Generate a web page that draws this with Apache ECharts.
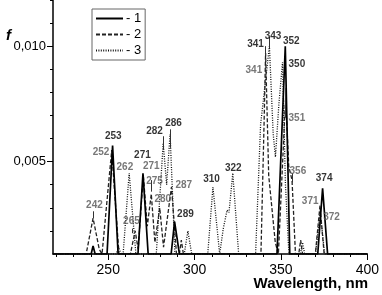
<!DOCTYPE html>
<html>
<head>
<meta charset="utf-8">
<script src="https://cdn.jsdelivr.net/npm/echarts@6/dist/echarts.min.js"></script>
<style>
  html, body { margin: 0; padding: 0; background: #fff; }
  #chart { width: 382px; height: 295px; }
</style>
</head>
<body>
<div id="chart"></div>
<script>
// spectrum 1 (solid)
var spec1 = [
  [218, 0.001], [240.1, 0.001], [241.2, 0.00135], [242.4, 0.001],
  [249.3, 0.001], [252.5, 0.0057], [255.7, 0.001],
  [267.2, 0.001], [270.1, 0.0045], [273.1, 0.001],
  [286.4, 0.001], [288.4, 0.0024], [291.2, 0.001],
  [347.7, 0.001], [352.5, 0.0100], [355.1, 0.001],
  [371.3, 0.001], [374.1, 0.00385], [377, 0.001], [400, 0.001]
]
// spectrum 2 (dashed)
var spec2 = [
  [218, 0.001], [237.2, 0.001], [241.2, 0.00255], [244.8, 0.0012],
  [246.4, 0.001], [252, 0.0055], [256.2, 0.001],
  [262.8, 0.001], [265.6, 0.0020], [267.3, 0.0012], [270.3, 0.0044],
  [272.6, 0.0022], [274.9, 0.0036], [277, 0.0015], [279.8, 0.0030],
  [282, 0.0013], [286.6, 0.0039], [289.5, 0.001],
  [291.2, 0.001], [292.3, 0.0016], [293.5, 0.001],
  [338.4, 0.001], [340.2, 0.0066], [341.1, 0.0097], [342.9, 0.0044],
  [346.7, 0.0015], [348.5, 0.001],
  [349.6, 0.001], [352.7, 0.0078], [354.5, 0.0048], [356.4, 0.0042], [358.4, 0.001],
  [360.3, 0.001], [361.4, 0.0016], [362.5, 0.001],
  [369.9, 0.001], [372.6, 0.0031], [375, 0.001], [400, 0.001]
]
// spectrum 3 (dotted)
var spec3 = [
  [218, 0.001], [254.6, 0.001], [256, 0.0013], [257.4, 0.001],
  [258.6, 0.001], [262.1, 0.0045], [266, 0.001],
  [277.8, 0.001], [281.8, 0.0058], [283.8, 0.0040], [285.8, 0.0062], [288.6, 0.001],
  [294, 0.001], [296.1, 0.0020], [298.3, 0.001],
  [307.6, 0.001], [310.6, 0.0039], [314.5, 0.001], [316.6, 0.0021],
  [318.8, 0.0029], [319.9, 0.0028], [322.1, 0.0045], [325.5, 0.001],
  [335.3, 0.001], [338.2, 0.0066], [343.3, 0.0100], [345.5, 0.0062],
  [346.8, 0.0052], [348.8, 0.0075], [350.9, 0.0093], [352.6, 0.0040], [354.6, 0.001],
  [361.3, 0.001], [362.5, 0.0015], [363.7, 0.001],
  [370, 0.001], [372.7, 0.0028], [375.3, 0.001], [400, 0.001]
]
// peak annotations [x, y, text]
var darkLabels = [
  [252.9, 0.00608, '253'], [269.8, 0.00526, '271'], [276.8, 0.0063, '282'],
  [287.8, 0.00666, '286'], [294.7, 0.00272, '289'], [309.8, 0.00425, '310'],
  [322.4, 0.00471, '322'], [335.3, 0.0101, '341'], [345.4, 0.01045, '343'],
  [356.0, 0.0102, '352'], [359.2, 0.00922, '350'], [375.0, 0.00428, '374']
]
var grayLabels = [
  [245.8, 0.00539, '252'], [259.6, 0.00475, '262'], [242.0, 0.00312, '242'],
  [263.4, 0.0024, '265'], [274.9, 0.00481, '271'], [276.8, 0.00413, '275'],
  [281.6, 0.00337, '280'], [293.7, 0.00396, '287'], [334.3, 0.00897, '341'],
  [359.2, 0.00687, '351'], [359.8, 0.0046, '356'], [366.9, 0.0033, '371'],
  [379.3, 0.00257, '372']
]
// leader ticks from a label down to its peak [x, yTop, yBottom]
var leaders = [
  [241.5, 0.00285, 0.00255], [281.8, 0.0061, 0.0055], [286.1, 0.0064, 0.0056],
  [341.1, 0.0100, 0.0096], [343.3, 0.0104, 0.0099], [352.7, 0.0082, 0.0069],
  [356.3, 0.0045, 0.0041], [274.9, 0.0042, 0.0037], [263.6, 0.0021, 0.0019]
]
var xMinorTicks = [220, 230, 240, 250, 260, 270, 280, 290, 300, 310, 320, 330, 340, 350, 360, 370, 380, 390, 400]
var xMajorTicks = [250, 300, 350, 400]
var yMinorTicks = [0.002, 0.003, 0.004, 0.005, 0.006, 0.007, 0.008, 0.009, 0.010, 0.011, 0.012]
var yMajorTicks = [0.005, 0.010]

var font = 'Liberation Sans, Arial, sans-serif'
var chart = echarts.init(document.getElementById('chart'))

var lineSeries = function (name, data, type, width, color) {
  return {
    name: name, type: 'line', data: data, symbol: 'none', animation: false,
    lineStyle: { color: color, width: width, type: type },
    itemStyle: { color: color }
  }
}
var labelSeries = function (data, color) {
  return {
    type: 'scatter', data: data, symbol: 'circle', symbolSize: 1, animation: false,
    itemStyle: { color: 'transparent' }, silent: true, z: 5,
    label: {
      show: true, position: 'inside', color: color, fontFamily: font,
      fontSize: 10, fontWeight: 'bold',
      formatter: function (p) { return p.data[2] }
    }
  }
}

var labelsDark = labelSeries(darkLabels, '#000')
labelsDark.markLine = {
  silent: true, symbol: 'none', animation: false,
  label: { show: false },
  lineStyle: { color: '#333', width: 1, type: 'solid' },
  data: leaders.map(function (d) { return [{ coord: [d[0], d[1]] }, { coord: [d[0], d[2]] }] })
}

var option = {
  backgroundColor: '#fff',
  animation: false,
  title: [
    { text: 'f', left: 1, top: 23, textStyle: { fontFamily: font, fontSize: 15, fontWeight: 'bold', fontStyle: 'italic', color: '#000' } },
    { text: 'Wavelength, nm', right: 9, bottom: -1, textStyle: { fontFamily: font, fontSize: 15, fontWeight: 'bold', color: '#000' } }
  ],
  legend: {
    data: ['1', '2', '3'],
    orient: 'vertical', left: 92, top: 9,
    borderColor: '#666', borderWidth: 1, padding: [3, 4, 3, 3],
    itemGap: 3, itemWidth: 27, itemHeight: 11,
    itemStyle: { opacity: 0 },
    textStyle: { fontFamily: font, fontSize: 13, color: '#000', padding: [0, 0, 0, -2] },
    formatter: function (n) { return '- ' + n }
  },
  grid: { left: 53, right: 12.7, top: 0, bottom: 41 },
  xAxis: [
    {
      type: 'value', min: 218, max: 400,
      axisLine: { lineStyle: { color: '#000', width: 1.5 } },
      axisTick: { customValues: xMinorTicks, length: 3, lineStyle: { color: '#000', width: 1 } },
      axisLabel: { customValues: xMajorTicks, fontFamily: font, fontSize: 14, color: '#000', margin: 9 },
      splitLine: { show: false }
    },
    {
      type: 'value', min: 218, max: 400, position: 'bottom',
      axisLine: { show: false },
      axisTick: { customValues: xMajorTicks, length: 6, lineStyle: { color: '#000', width: 1 } },
      axisLabel: { show: false },
      splitLine: { show: false }
    }
  ],
  yAxis: [
    {
      type: 'value', min: 0.001, max: 0.012,
      axisLine: { show: true, lineStyle: { color: '#000', width: 1.5 } },
      axisTick: { show: true, customValues: yMinorTicks, length: 3, lineStyle: { color: '#000', width: 1 } },
      axisLabel: {
        customValues: yMajorTicks, fontFamily: font, fontSize: 13, color: '#000', margin: 7,
        formatter: function (v) { return v.toFixed(3).replace('.', ',') }
      },
      splitLine: { show: false }
    },
    {
      type: 'value', min: 0.001, max: 0.012, position: 'left',
      axisLine: { show: false },
      axisTick: { show: true, customValues: yMajorTicks, length: 6, lineStyle: { color: '#000', width: 1 } },
      axisLabel: { show: false },
      splitLine: { show: false }
    }
  ],
  series: [
    lineSeries('3', spec3, [1, 1.4], 1.3, '#111'),
    lineSeries('2', spec2, [4, 2], 1.3, '#222'),
    lineSeries('1', spec1, 'solid', 1.7, '#000'),
    labelsDark,
    labelSeries(grayLabels, '#555')
  ]
}
chart.setOption(option)
</script>
</body>
</html>
